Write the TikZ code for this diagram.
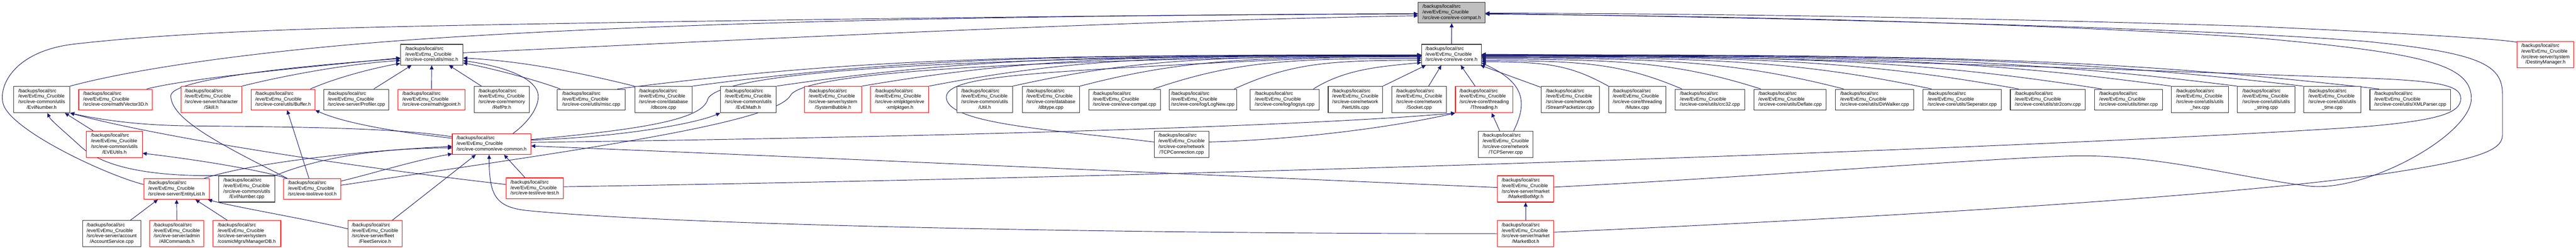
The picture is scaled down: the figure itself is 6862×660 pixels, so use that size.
\documentclass[tikz,border=0pt]{standalone}
\usepackage{fontspec}
\setmainfont{Liberation Sans}
\usetikzlibrary{arrows.meta}
\pgfdeclarelayer{bgl}
\pgfdeclarelayer{edl}
\pgfsetlayers{bgl,edl,main}
\definecolor{mblue}{HTML}{191970}
\definecolor{rdb}{HTML}{FF0000}
\definecolor{bkb}{HTML}{333333}
\definecolor{topfill}{HTML}{BFBFBF}
\newcommand\nthree[1]{\begin{tabular}{@{}l@{}}/backups/local/src\\/eve/EvEmu\_Crucible\\#1\end{tabular}}
\newcommand\nfour[2]{\begin{tabular}{@{}l@{}}/backups/local/src\\/eve/EvEmu\_Crucible\\#1\\\multicolumn{1}{@{}c@{}}{#2}\end{tabular}}
\begin{document}
\begin{tikzpicture}[x=1pt,y=1pt,
  nb/.style={draw, fill=white, line width=1.5pt, inner sep=0pt, font=\fontsize{12.8}{14.7}\selectfont, minimum height=55pt},
  bk/.style={nb, draw=bkb, minimum width=#1pt},
  rd/.style={nb, draw=rdb, minimum width=#1pt},
  tp/.style={nb, draw=bkb, fill=topfill, minimum width=#1pt},
  tall/.style={minimum height=70pt},
  ed/.style={draw=mblue, line width=1.3pt, -{Triangle[length=11pt,width=10pt]}}]
\begin{pgfonlayer}{bgl}
\fill[white] (0,0) rectangle (6862,-660);
\end{pgfonlayer}
\useasboundingbox (0,0) rectangle (6862,-660);
% row 0 / 1
\node[tp=178] (compat) at (3867,-33.5) {\nthree{/src/eve-core/eve-compat.h}};
\node[bk=159] (core) at (3866.5,-145.5) {\nthree{/src/eve-core/eve-core.h}};
\node[rd=151,tall] (destiny) at (6780.5,-145) {\nfour{/src/eve-server/system}{/DestinyManager.h}};
\node[bk=166] (misch) at (1150,-145.5) {\nthree{/src/eve-core/utils/misc.h}};
% row 2
\node[bk=150,tall] (evilnumh) at (111,-265) {\nfour{/src/eve-common/utils}{/EvilNumber.h}};
\node[rd=196] (vector3d) at (308,-265) {\nthree{/src/eve-core/math/Vector3D.h}};
\node[rd=162,tall] (skill) at (563,-265) {\nfour{/src/eve-server/character}{/Skill.h}};
\node[rd=170] (buffer) at (754,-265) {\nthree{/src/eve-core/utils/Buffer.h}};
\node[bk=173] (profiler) at (949.5,-265) {\nthree{/src/eve-server/Profiler.cpp}};
\node[rd=179] (gpoint) at (1149.5,-265) {\nthree{/src/eve-core/math/gpoint.h}};
\node[bk=147,tall] (refptr) at (1336.5,-265) {\nfour{/src/eve-core/memory}{/RefPtr.h}};
\node[bk=182] (misccpp) at (1575,-265) {\nthree{/src/eve-core/utils/misc.cpp}};
\node[bk=153,tall] (dbcore) at (1767.5,-265) {\nfour{/src/eve-core/database}{/dbcore.cpp}};
\node[bk=149,tall] (evemath) at (1993.5,-265) {\nfour{/src/eve-common/utils}{/EvEMath.h}};
\node[rd=152,tall] (sysbubble) at (2219,-265) {\nfour{/src/eve-server/system}{/SystemBubble.h}};
\node[rd=155,tall] (xmlpktgen) at (2396.5,-265) {\nfour{/src/eve-xmlpktgen/eve}{-xmlpktgen.h}};
\node[bk=148,tall] (utilh) at (2623,-265) {\nfour{/src/eve-common/utils}{/Util.h}};
\node[bk=153,tall] (dbtype) at (2799.5,-265) {\nfour{/src/eve-core/database}{/dbtype.cpp}};
\node[bk=191] (compatcpp) at (2995.5,-265) {\nthree{/src/eve-core/eve-compat.cpp}};
\node[bk=180] (lognew) at (3204,-265) {\nthree{/src/eve-core/log/LogNew.cpp}};
\node[bk=184] (logsys) at (3422,-265) {\nthree{/src/eve-core/log/logsys.cpp}};
\node[bk=145,tall] (netutils) at (3610.5,-265) {\nfour{/src/eve-core/network}{/NetUtils.cpp}};
\node[bk=145,tall] (socket) at (3780.5,-265) {\nfour{/src/eve-core/network}{/Socket.cpp}};
\node[rd=153,tall] (threading) at (3953.5,-265) {\nfour{/src/eve-core/threading}{/Threading.h}};
\node[bk=155,tall] (streampkt) at (4182.5,-265) {\nfour{/src/eve-core/network}{/StreamPacketizer.cpp}};
\node[bk=153,tall] (mutex) at (4361.5,-265) {\nfour{/src/eve-core/threading}{/Mutex.cpp}};
\node[bk=186] (crc32) at (4555,-265) {\nthree{/src/eve-core/utils/crc32.cpp}};
\node[bk=193] (deflate) at (4768.5,-265) {\nthree{/src/eve-core/utils/Deflate.cpp}};
\node[bk=209] (dirwalker) at (4993.5,-265) {\nthree{/src/eve-core/utils/DirWalker.cpp}};
\node[bk=208] (seperator) at (5227,-265) {\nthree{/src/eve-core/utils/Seperator.cpp}};
\node[bk=200] (str2conv) at (5455,-265) {\nthree{/src/eve-core/utils/str2conv.cpp}};
\node[bk=182] (timer) at (5670,-265) {\nthree{/src/eve-core/utils/timer.cpp}};
\node[bk=152,tall] (utilshex) at (5860,-265) {\nfour{/src/eve-core/utils/utils}{\_hex.cpp}};
\node[bk=153,tall] (utilsstring) at (6036.5,-265) {\nfour{/src/eve-core/utils/utils}{\_string.cpp}};
\node[bk=153,tall] (utilstime) at (6212.5,-265) {\nfour{/src/eve-core/utils/utils}{\_time.cpp}};
\node[bk=215] (xmlparser) at (6420.5,-265) {\nthree{/src/eve-core/utils/XMLParser.cpp}};
% row 3
\node[rd=149,tall] (eveutils) at (304.5,-384) {\nfour{/src/eve-common/utils}{/EVEUtils.h}};
\node[rd=209] (evecommon) at (1309.5,-383.5) {\nthree{/src/eve-common/eve-common.h}};
\node[bk=145,tall] (tcpconn) at (3147.5,-384) {\nfour{/src/eve-core/network}{/TCPConnection.cpp}};
\node[bk=146,tall] (tcpserver) at (4011,-384) {\nfour{/src/eve-core/network}{/TCPServer.cpp}};
% row 4
\node[rd=175] (entitylist) at (470.5,-503) {\nthree{/src/eve-server/EntityList.h}};
\node[bk=149,tall] (evilnumcpp) at (657.5,-503) {\nfour{/src/eve-common/utils}{/EvilNumber.cpp}};
\node[rd=152] (evetool) at (832,-503) {\nthree{/src/eve-tool/eve-tool.h}};
\node[rd=153] (evetest) at (1424.5,-501) {\nthree{/src/eve-test/eve-test.h}};
\node[rd=150,tall] (marketbotmgr) at (4064,-503) {\nfour{/src/eve-server/market}{/MarketBotMgr.h}};
% row 5
\node[bk=155,tall] (account) at (297.5,-622) {\nfour{/src/eve-server/account}{/AccountService.cpp}};
\node[rd=144,tall] (allcommands) at (471,-622) {\nfour{/src/eve-server/admin}{/AllCommands.h}};
\node[rd=181,tall] (managerdb) at (657.5,-622) {\nfour{/src/eve-server/system}{/cosmicMgrs/ManagerDB.h}};
\node[rd=144,tall] (fleet) at (999,-622) {\nfour{/src/eve-server/fleet}{/FleetService.h}};
\node[rd=150,tall] (marketbot) at (4064,-622) {\nfour{/src/eve-server/market}{/MarketBot.h}};

\begin{pgfonlayer}{edl}
% into eve-compat.h
\draw[ed] (core.north) -- (compat.south);
\draw[ed] ([yshift=5]misch.east) .. controls (2000,-105) and (3000,-55) .. ([yshift=-8.5]compat.west);
\draw[ed] (evilnumh.north east) .. controls (350,-185) and (700,-130) .. (1200,-99) .. controls (2000,-49) and (3000,-40) .. ([yshift=-3.5]compat.west);
\draw[ed] ([yshift=12]entitylist.west) .. controls (280,-465) and (25,-345) .. (8,-275) .. controls (-4,-226) and (40,-135) .. (200,-117) .. controls (500,-83) and (900,-74) .. (1200,-68) .. controls (2000,-52) and (3300,-37) .. ([yshift=-3]compat.west);
\draw[ed] ([yshift=-3]destiny.north west) .. controls (6650,-103) and (6400,-88) .. (6000,-70) .. controls (5200,-45) and (4500,-36) .. ([yshift=-1.5]compat.east);
\draw[ed] ([yshift=5]marketbotmgr.east) .. controls (4700,-470) and (5300,-420) .. (5530,-415) .. controls (5750,-412) and (5950,-470) .. (6148,-495) .. controls (6300,-514) and (6583,-360) .. (6583,-262) .. controls (6583,-170) and (6450,-140) .. (6000,-100) .. controls (5300,-55) and (4500,-42) .. ([yshift=-4]compat.east);
\draw[ed] ([yshift=4]marketbot.east) .. controls (5000,-580) and (6000,-520) .. (6400,-455) .. controls (6600,-423) and (6666,-400) .. (6666,-360) -- (6666,-250) .. controls (6666,-170) and (6600,-140) .. (6300,-110) .. controls (5800,-70) and (4600,-45) .. ([yshift=-2.5]compat.east);
% into misc.h
\draw[ed] ([xshift=-16]vector3d.north east) .. controls (510,-207) and (816,-179) .. ([yshift=-8.5]misch.west);
\draw[ed] ([xshift=10]evetool.north west) .. controls (600,-390) and (455,-320) .. (455,-255) .. controls (455,-210) and (800,-175) .. ([yshift=-10.5]misch.west);
\draw[ed] (skill.north east) .. controls (720,-210) and (900,-172) .. ([yshift=-15.5]misch.west);
\draw[ed] ([xshift=-13]buffer.north east) .. controls (900,-205) and (1000,-180) .. ([yshift=5]misch.south west);
\draw[ed] ([xshift=-41]profiler.north east) -- ([xshift=30]misch.south west);
\draw[ed] (gpoint.north) -- (misch.south);
\draw[ed] ([xshift=-54]refptr.north) -- ([xshift=46]misch.south);
\draw[ed] ([xshift=57]evecommon.north) .. controls (1415,-320) and (1445,-270) .. (1430,-240) .. controls (1410,-200) and (1330,-175) .. ([yshift=-16]misch.east);
\draw[ed] ([xshift=9]misccpp.north west) .. controls (1420,-210) and (1300,-180) .. ([yshift=-22]misch.east);
\draw[ed] (dbcore.north west) .. controls (1550,-195) and (1400,-163) .. ([yshift=-9]misch.east);
% into eve-core.h from the left
\draw[ed] ([xshift=-22]misccpp.north east) .. controls +(643,82) and +(-1071,0) .. ([yshift=-0.5]core.west);
\draw[ed] (dbcore.north east) .. controls +(583,77) and +(-970,0) .. ([yshift=-1]core.west);
\draw[ed] (evemath.north east) .. controls +(516,76) and +(-860,0) .. ([yshift=-2]core.west);
\draw[ed] (sysbubble.north east) .. controls +(448,76) and +(-746,0) .. ([yshift=-2]core.west);
\draw[ed] (xmlpktgen.north east) .. controls +(394,76) and +(-656,0) .. ([yshift=-3]core.west);
\draw[ed] (utilh.north east) .. controls +(327,73) and +(-545,0) .. ([yshift=-4]core.west);
\draw[ed] (dbtype.north east) .. controls +(273,71) and +(-455,0) .. ([yshift=-6]core.west);
\draw[ed] ([xshift=-19]compatcpp.north east) .. controls +(215,73) and +(-357,0) .. ([yshift=-10]core.west);
\draw[ed] ([xshift=-7]lognew.north east) .. controls +(150,68) and +(-250,0) .. ([yshift=-15]core.west);
\draw[ed] ([xshift=-16]logsys.north east) .. controls +(87,55) and +(-100,-10) .. ([yshift=-21]core.west);
\draw[ed] (netutils.north east) -- ([xshift=12]core.south west);
\draw[ed] ([xshift=25]socket.north) -- ([xshift=-27]core.south);
\draw[ed] ([xshift=-24]threading.north) -- ([xshift=24.5]core.south);
\draw[ed] ([yshift=12]evecommon.east) .. controls (1700,-345) and (1870,-320) .. (1885,-265) .. controls (1905,-200) and (2400,-150) .. ([yshift=-1]core.west);
\draw[ed] ([yshift=10]evetool.east) .. controls (1500,-405) and (2060,-330) .. (2105,-255) .. controls (2130,-205) and (2500,-160) .. ([yshift=-2]core.west);
\draw[ed] ([yshift=6]tcpconn.west) .. controls (2800,-345) and (2530,-330) .. (2521,-262) .. controls (2515,-215) and (2650,-200) .. (3000,-180) .. controls (3400,-158) and (3600,-150) .. ([yshift=-4]core.west);
% into eve-core.h from the right
\draw[ed] ([xshift=21]tcpserver.north) .. controls +(40,80) and +(110,-50) .. ([yshift=-22]core.east);
\draw[ed] ([yshift=-3]streampkt.north west) -- ([xshift=-3]core.south east);
\draw[ed] (mutex.north west) .. controls +(-102,57) and +(170,0) .. ([yshift=-19]core.east);
\draw[ed] ([xshift=19]crc32.north west) .. controls +(-160,68) and +(268,0) .. ([yshift=-16]core.east);
\draw[ed] ([xshift=19]deflate.north west) .. controls +(-224,71) and +(373,0) .. ([yshift=-12]core.east);
\draw[ed] ([xshift=23]dirwalker.north west) .. controls +(-290,74) and +(483,0) .. ([yshift=-9]core.east);
\draw[ed] ([xshift=23]seperator.north west) .. controls +(-360,76) and +(600,0) .. ([yshift=-7]core.east);
\draw[ed] ([xshift=23]str2conv.north west) .. controls +(-430,77) and +(716,0) .. ([yshift=-5]core.east);
\draw[ed] ([xshift=20]timer.north west) .. controls +(-496,78) and +(826,0) .. ([yshift=-4]core.east);
\draw[ed] (utilshex.north west) .. controls +(-551,75) and +(919,0) .. ([yshift=-3]core.east);
\draw[ed] (utilsstring.north west) .. controls +(-604,76) and +(1007,0) .. ([yshift=-2]core.east);
\draw[ed] (utilstime.north west) .. controls +(-657,77) and +(1095,0) .. ([yshift=-1]core.east);
\draw[ed] ([xshift=25]xmlparser.north west) .. controls +(-718,82) and +(1196,0) .. (core.east);
\draw[ed] ([yshift=4]evetest.east) .. controls (3500,-465) and (5600,-385) .. (6300,-337) .. controls (6500,-320) and (6555,-300) .. (6555,-262) .. controls (6555,-228) and (6500,-215) .. (6300,-208) .. controls (5500,-180) and (4600,-146) .. ([yshift=1]core.east);
% eve-common.h and the left part
\draw[ed] ([yshift=19.5]evecommon.west) .. controls (1050,-340) and (800,-338) .. (500,-335) .. controls (350,-333) and (250,-315) .. (evilnumh.south east);
\draw[ed] ([yshift=15.5]evecommon.west) .. controls (1000,-345) and (900,-320) .. (buffer.south east);
\draw[ed] ([xshift=19]eveutils.north west) -- ([xshift=-14]evilnumh.south east);
\draw[ed] (evilnumcpp.north west) .. controls (420,-470) and (280,-450) .. (215,-390) .. controls (160,-340) and (135,-320) .. ([xshift=15]evilnumh.south);
\draw[ed] ([xshift=10]evetool.north west) .. controls (700,-455) and (550,-428) .. ([yshift=-24]eveutils.east);
\draw[ed] ([xshift=-9]evetool.north) -- ([xshift=11]buffer.south);
\draw[ed] ([xshift=-15]entitylist.north east) .. controls (650,-440) and (900,-405) .. ([yshift=-6]evecommon.west);
\draw[ed] (evilnumcpp.north east) .. controls (850,-420) and (1000,-395) .. ([yshift=-10]evecommon.west);
\draw[ed] ([yshift=21]evetool.east) .. controls (1000,-460) and (1100,-428) .. ([yshift=-26]evecommon.west);
\draw[ed] ([xshift=46]fleet.north) -- ([xshift=-42]evecommon.south);
\draw[ed] ([xshift=-26]evetest.north) -- ([xshift=33]evecommon.south);
\draw[ed] (marketbot.west) .. controls (3000,-622) and (1800,-600) .. (1400,-560) .. controls (1320,-550) and (1303,-520) .. ([xshift=-6.5]evecommon.south);
\draw[ed] ([yshift=4]marketbotmgr.west) .. controls (3300,-470) and (2200,-420) .. ([yshift=-5]evecommon.east);
\draw[ed] ([yshift=10.5]evecommon.east) .. controls (1650,-365) and (1850,-330) .. (evemath.south west);
\draw[ed] ([yshift=4.5]evecommon.east) .. controls (2500,-365) and (3500,-335) .. (threading.south west);
\draw[ed] ([yshift=6]tcpconn.east) .. controls (3500,-370) and (3750,-330) .. (threading.south west);
\draw[ed] ([xshift=-16]tcpserver.north) -- ([xshift=20]threading.south);
\draw[ed] (marketbot.north) -- (marketbotmgr.south);
\draw[ed] ([xshift=50]account.north) -- ([xshift=-50]entitylist.south);
\draw[ed] (allcommands.north) -- (entitylist.south);
\draw[ed] ([xshift=-52]managerdb.north) -- ([xshift=50]entitylist.south);
\draw[ed] ([yshift=13]fleet.west) .. controls (800,-580) and (620,-550) .. ([xshift=-5]entitylist.south east);
\draw[ed] ([yshift=10]evetest.west) .. controls (900,-440) and (400,-360) .. (evilnumh.south east);
\end{pgfonlayer}
\end{tikzpicture}
\end{document}
